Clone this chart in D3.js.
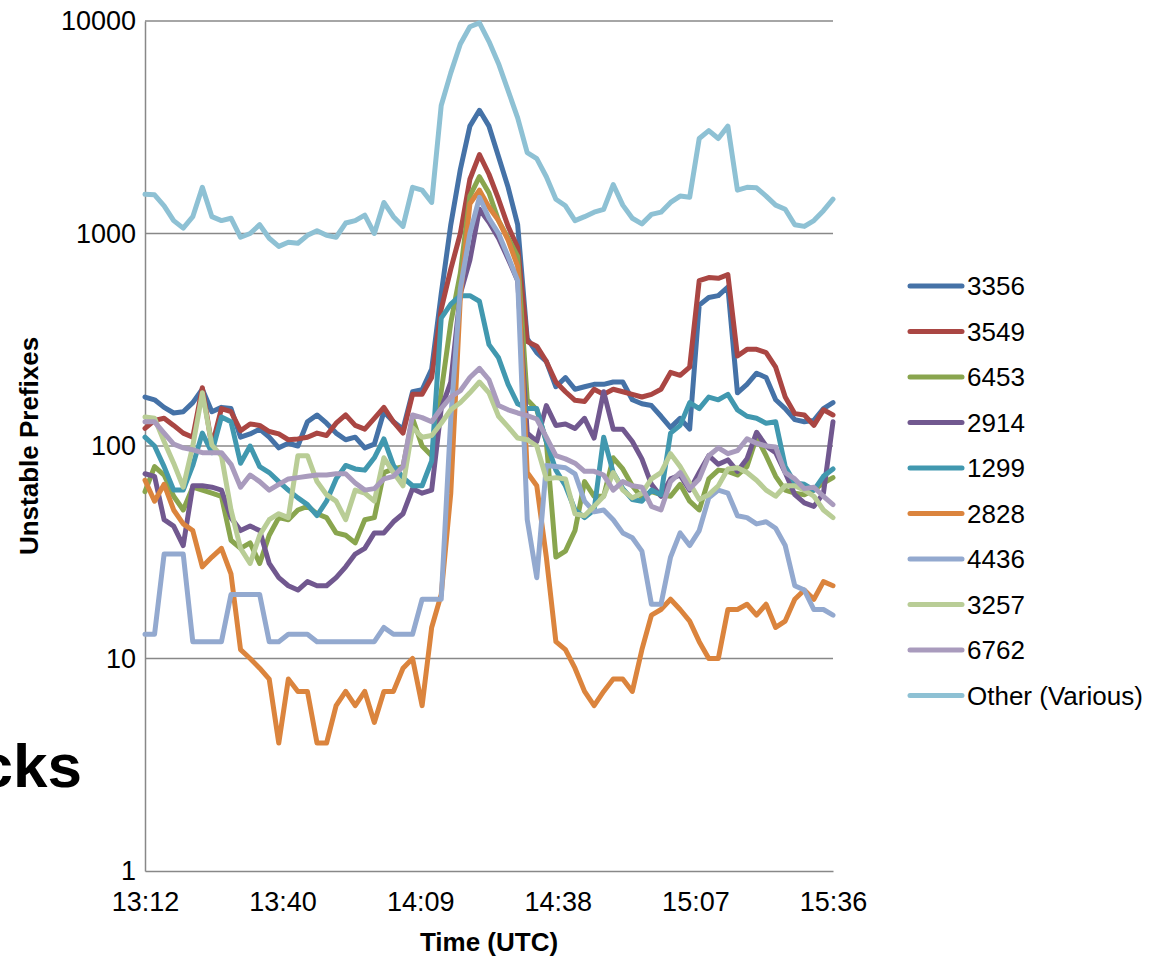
<!DOCTYPE html>
<html>
<head>
<meta charset="utf-8">
<script src="https://cdn.jsdelivr.net/npm/d3@7"></script>
<style>
  body { margin: 0; background: #fff; }
  text { font-family: "Liberation Sans", Arial, sans-serif; fill: #000; }
</style>
</head>
<body>
<svg id="chart" width="1151" height="956"></svg>
<script>
// ---- data (one value every 2 minutes from 13:12) ----
var seriesNames = ['3356', '3549', '6453', '2914', '1299', '2828', '4436', '3257', '6762', 'Other (Various)'];
var seriesColors = ['#4572A7', '#AA4643', '#89A54E', '#71588F', '#4198AF', '#DB843D', '#93A9CF', '#B9CD96', '#A99BBD', '#8EC1D4'];

var s3356 = [170,165,152,143,145,160,185,145,152,150,
  110,114,120,110,98,103,100,130,140,128,
  115,107,110,98,102,145,130,120,180,184,
  230,520,1100,2000,3200,3800,3200,2300,1650,1100,
  320,275,250,190,210,185,190,195,195,200,
  200,165,158,155,138,122,135,120,460,500,
  510,560,178,195,220,210,165,150,133,130,
  132,150,160];
var s3549 = [121,132,135,125,115,110,188,100,150,145,
  118,127,125,117,114,107,108,110,115,112,
  128,140,125,120,135,152,130,115,175,175,
  210,440,680,1000,1800,2350,1900,1450,1080,860,
  310,295,250,200,180,164,162,185,175,185,
  180,175,170,175,185,222,215,235,600,620,
  615,640,265,285,285,275,235,170,142,140,
  125,148,140];
var s6453 = [61,80,73,58,50,64,62,60,58,36,
  33,35,28,38,46,45,50,52,48,46,
  39,38,35,45,46,75,78,80,135,100,
  90,180,380,650,1500,1850,1550,1150,950,780,
  165,148,105,30,32,40,68,58,58,88,
  78,65,57,61,59,58,66,55,50,70,
  77,76,73,80,110,90,72,62,60,59,
  62,67,71];
var s2914 = [74,72,45,42,34,65,65,64,62,46,
  40,42,40,28,24,22,21,23,22,22,
  24,27,31,33,39,39,44,48,63,60,
  62,150,200,520,750,1300,1130,950,760,600,
  115,105,155,125,127,121,135,109,180,120,
  120,105,87,66,58,70,73,62,75,90,
  82,86,76,87,116,100,93,75,59,54,
  52,60,130];
var s1299 = [110,100,80,62,62,81,115,93,137,130,
  83,100,80,75,68,62,57,53,47,55,
  70,81,78,77,88,108,81,71,65,65,
  85,400,465,510,510,480,300,260,195,158,
  150,150,105,77,65,50,46,50,110,75,
  63,56,55,62,59,115,125,160,150,170,
  165,175,148,138,135,128,130,80,67,66,
  62,72,78];
var s2828 = [69,55,66,50,43,40,27,30,33,25,
  11,10,9,8,4,8,7,7,4,4,
  6,7,6,7,5,7,7,9,10,6,
  14,20,60,500,1380,1600,1330,1150,930,700,
  75,65,30,12,11,9,7,6,7,8,
  8,7,11,16,17,19,17,15,12,10,
  10,17,17,18,16,18,14,15,19,21,
  19,23,22];
var s4436 = [13,13,31,31,31,12,12,12,12,20,
  20,20,20,12,12,13,13,13,12,12,
  12,12,12,12,12,14,13,13,13,19,
  19,19,135,550,1000,1480,1180,1000,780,600,
  45,24,81,80,79,74,55,49,50,45,
  39,37,32,18,18,30,39,34,40,57,
  62,60,47,46,43,44,41,34,22,21,
  17,17,16];
var s3257 = [137,135,105,83,64,100,178,101,90,50,
  33,28,38,45,48,46,90,90,68,59,
  55,45,62,60,55,88,75,65,122,110,
  112,128,148,160,178,200,178,138,123,109,
  107,100,70,71,70,48,47,52,58,75,
  62,57,60,70,75,92,80,67,56,59,
  65,78,79,75,69,62,58,65,65,62,
  58,50,46];
var s6762 = [130,130,115,102,98,96,93,93,93,82,
  64,73,68,62,66,70,71,72,73,73,
  74,74,67,62,63,70,72,80,140,136,
  130,150,170,182,210,232,205,155,148,143,
  139,134,110,90,87,83,76,76,73,62,
  68,65,64,52,50,68,75,63,70,90,
  98,92,95,108,103,100,99,75,70,63,
  64,58,53];
var sOther = [1530,1520,1350,1150,1060,1200,1650,1200,1150,1180,
  960,1000,1100,950,870,910,900,980,1030,980,
  960,1120,1150,1220,1000,1400,1200,1080,1650,1600,
  1400,4000,5700,7800,9400,9800,8000,6300,4700,3500,
  2400,2250,1850,1450,1350,1150,1200,1260,1300,1700,
  1360,1180,1110,1230,1260,1400,1500,1480,2800,3050,
  2800,3200,1600,1650,1640,1500,1360,1300,1100,1080,
  1150,1280,1450];

var seriesValues = [s3356, s3549, s6453, s2914, s1299, s2828, s4436, s3257, s6762, sOther];

var yTicks = [1, 10, 100, 1000, 10000];
var yTickLabels = ['1', '10', '100', '1000', '10000'];
var xTickMinutes = [0, 28.8, 57.6, 86.4, 115.2, 144];
var xTickLabels = ['13:12', '13:40', '14:09', '14:38', '15:07', '15:36'];

// ---- chart ----
var svg = d3.select('#chart');
var plotLeft = 145, plotRight = 833, plotTop = 21, plotBottom = 871;
var start = new Date(2013, 0, 1, 13, 12);
function atMinute(m) { return new Date(start.getTime() + m * 60000); }

var x = d3.scaleTime().domain([atMinute(0), atMinute(144)]).range([plotLeft, plotRight]);
var y = d3.scaleLog().domain([1, 10000]).range([plotBottom, plotTop]);

// gridlines
svg.append('g')
  .selectAll('line')
  .data(yTicks.slice(1))
  .enter().append('line')
  .attr('x1', plotLeft).attr('x2', plotRight)
  .attr('y1', function(d) { return y(d); })
  .attr('y2', function(d) { return y(d); })
  .attr('stroke', '#888').attr('stroke-width', 1.5);

var yAxis = svg.append('g')
  .attr('transform', 'translate(' + plotLeft + ',0)')
  .call(d3.axisLeft(y).tickValues(yTicks).tickSize(0).tickPadding(9)
    .tickFormat(function(d, i) { return yTickLabels[i]; }));
var xAxis = svg.append('g')
  .attr('transform', 'translate(0,' + plotBottom + ')')
  .call(d3.axisBottom(x).tickValues(xTickMinutes.map(atMinute)).tickSize(0).tickPadding(21)
    .tickFormat(function(d, i) { return xTickLabels[i]; }));

[xAxis, yAxis].forEach(function(ax) {
  ax.select('.domain').attr('stroke', '#888').attr('stroke-width', 1.5);
  ax.selectAll('text').attr('font-size', 27).attr('font-family', '"Liberation Sans", Arial, sans-serif').attr('fill', '#000');
});

// lines
var line = d3.line()
  .x(function(d, i) { return x(atMinute(i * 2)); })
  .y(function(d) { return y(d); });

svg.append('g')
  .selectAll('path')
  .data(seriesValues)
  .enter().append('path')
  .attr('d', function(d) { return line(d); })
  .attr('fill', 'none')
  .attr('stroke', function(d, i) { return seriesColors[i]; })
  .attr('stroke-width', 5)
  .attr('stroke-linejoin', 'round')
  .attr('stroke-linecap', 'round');

// axis titles
svg.append('text')
  .attr('x', (plotLeft + plotRight) / 2).attr('y', 951)
  .attr('text-anchor', 'middle')
  .attr('font-size', 26).attr('font-weight', 'bold')
  .text('Time (UTC)');
svg.append('text')
  .attr('transform', 'translate(38,' + ((plotTop + plotBottom) / 2) + ') rotate(-90)')
  .attr('text-anchor', 'middle')
  .attr('font-size', 26).attr('font-weight', 'bold')
  .text('Unstable Prefixes');

// legend
var legend = svg.append('g')
  .selectAll('g')
  .data(seriesNames)
  .enter().append('g')
  .attr('transform', function(d, i) { return 'translate(910,' + (286 + i * 45.5) + ')'; });
legend.append('line')
  .attr('x1', 0).attr('x2', 52)
  .attr('stroke', function(d, i) { return seriesColors[i]; })
  .attr('stroke-width', 5).attr('stroke-linecap', 'round');
legend.append('text')
  .attr('x', 57).attr('dy', '0.35em')
  .attr('font-size', 26)
  .text(function(d) { return d; });

// slide title fragment peeking out behind the chart
svg.append('text')
  .attr('x', 82).attr('y', 787)
  .attr('text-anchor', 'end')
  .attr('font-size', 62).attr('font-weight', 'bold')
  .text('cks');
</script>
</body>
</html>
